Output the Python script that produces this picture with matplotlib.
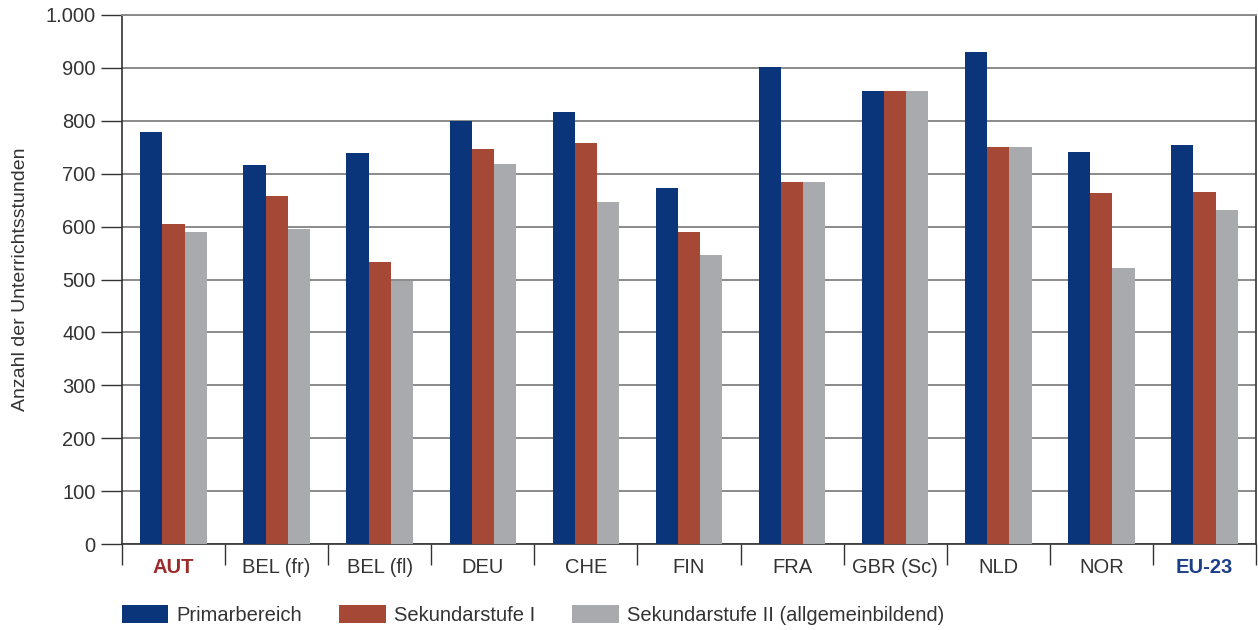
import numpy as np
import matplotlib
matplotlib.use("Agg")
import matplotlib.pyplot as plt
from matplotlib.ticker import FuncFormatter, FixedLocator

plt.rcParams['font.family'] = ['Liberation Sans', 'DejaVu Sans']

laender = ["AUT", "BEL (fr)", "BEL (fl)", "DEU", "CHE", "FIN", "FRA",
           "GBR (Sc)", "NLD", "NOR", "EU-23"]
primar = [779, 716, 739, 800, 817, 673, 902, 856, 930, 741, 754]
sek1 = [605, 658, 533, 747, 758, 590, 684, 856, 750, 663, 665]
sek2 = [590, 595, 498, 718, 646, 546, 684, 856, 750, 522, 631]
serien = ["Primarbereich", "Sekundarstufe I", "Sekundarstufe II (allgemeinbildend)"]
farben = ["#0a357a", "#a64836", "#a9aaad"]

fig = plt.figure(figsize=(12.58, 6.3), dpi=100)
ax = fig.add_axes([122/1258, 1 - 544/630, (1256 - 122)/1258, (544 - 15)/630])

x = np.arange(len(laender))
w = 0.215
for i, (werte, name, c) in enumerate(zip([primar, sek1, sek2], serien, farben)):
    ax.bar(x + (i - 1) * w, werte, width=w, color=c, label=name, zorder=3)

ax.set_xlim(-0.5, len(laender) - 0.5)
ax.set_ylim(0, 1000)
ax.set_yticks(np.arange(0, 1001, 100))
ax.yaxis.set_major_formatter(FuncFormatter(lambda v, p: f"{int(v):,}".replace(",", ".")))
ax.grid(axis="y", color="#8a8a8a", linewidth=1.4, zorder=0)

ax.set_xticks(x)
ax.set_xticklabels(laender)
ax.xaxis.set_minor_locator(FixedLocator(np.arange(-0.5, len(laender), 1)))
ax.tick_params(axis="x", which="major", length=0, pad=10, labelsize=14.5, labelcolor="#333333")
ax.tick_params(axis="x", which="minor", length=15, width=1, color="#333333")
ax.tick_params(axis="y", length=15, width=1, color="#333333", labelsize=14.5, labelcolor="#333333", pad=4)

for lab in ax.get_xticklabels():
    if lab.get_text() == "AUT":
        lab.set_color("#9b2a2a")
        lab.set_fontweight("bold")
    elif lab.get_text() == "EU-23":
        lab.set_color("#1c3f87")
        lab.set_fontweight("bold")

for s in ["left", "bottom", "right"]:
    ax.spines[s].set_color("#333333")
    ax.spines[s].set_linewidth(1.2)
ax.spines["top"].set_color("#8a8a8a")
ax.spines["top"].set_linewidth(1.4)

ax.set_ylabel("Anzahl der Unterrichtsstunden", fontsize=14, color="#333333", labelpad=12)

fig.legend(loc="center left", bbox_to_anchor=(104/1258, 1 - 615/630), ncol=3,
           frameon=False, fontsize=14.5, handlelength=2.3, handleheight=1.0,
           columnspacing=1.85, handletextpad=0.4, labelcolor="#333333")

fig.savefig("out.png", dpi=100)
